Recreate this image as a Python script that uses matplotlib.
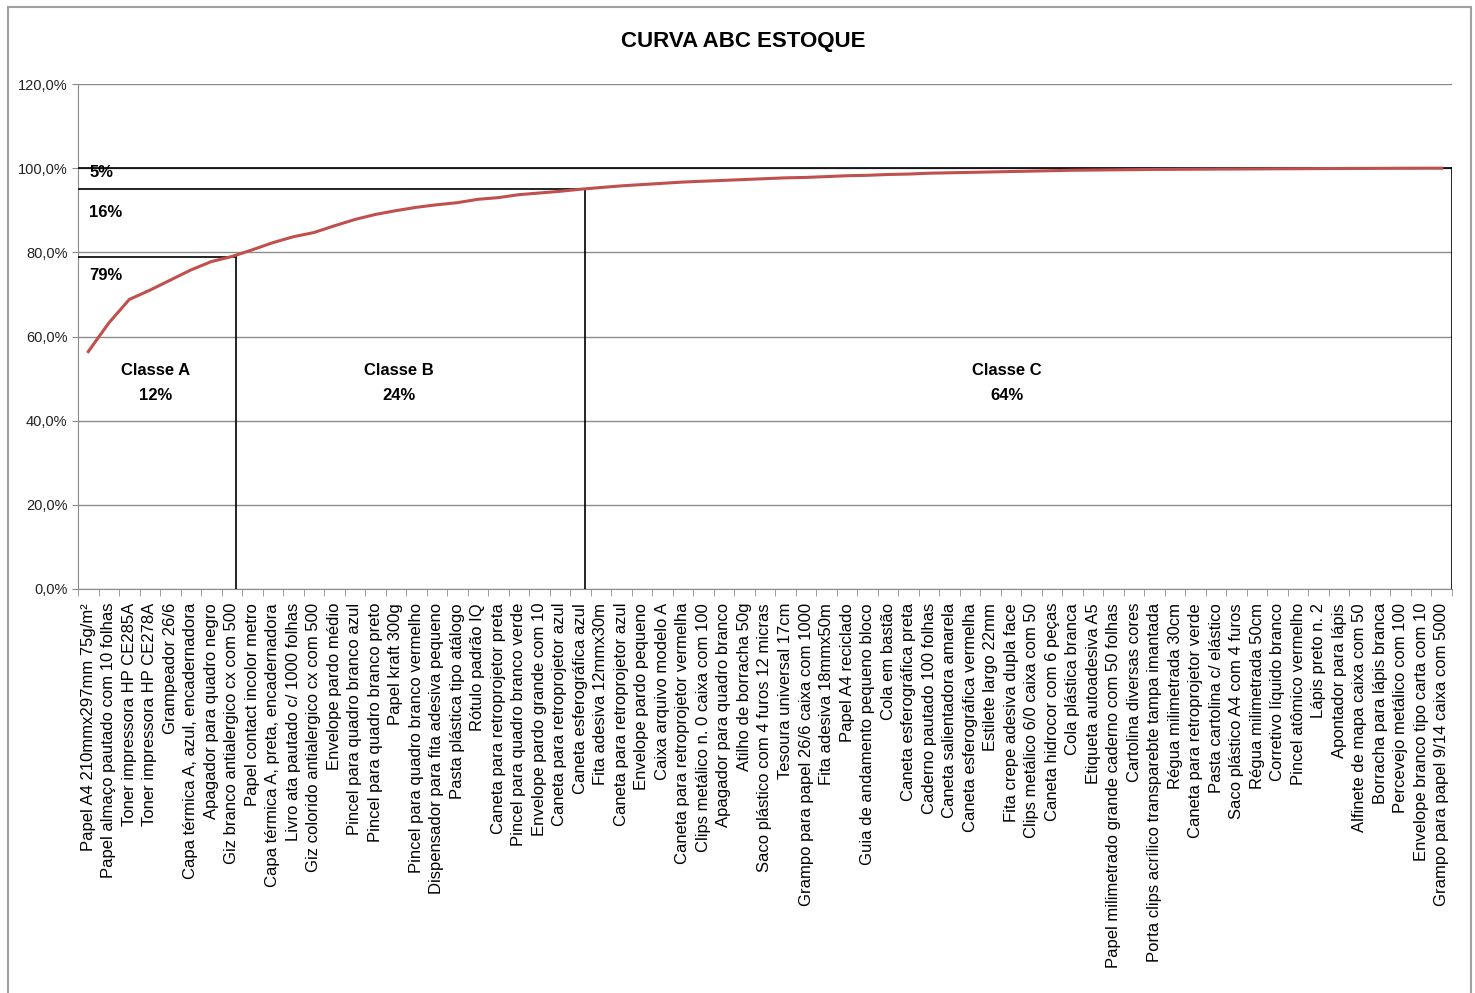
import matplotlib
matplotlib.use("Agg")
import matplotlib.pyplot as plt
from matplotlib.patches import Rectangle
from matplotlib.ticker import FuncFormatter

plt.rcParams['font.family'] = ['Liberation Sans', 'DejaVu Sans']

items = [
    "Papel A4 210mmx297mm 75g/m²",
    "Papel almaço pautado com 10 folhas",
    "Toner impressora HP CE285A",
    "Toner impressora HP CE278A",
    "Grampeador 26/6",
    "Capa térmica A, azul, encadernadora",
    "Apagador para quadro negro",
    "Giz branco antialergico cx com 500",
    "Papel contact incolor metro",
    "Capa térmica A, preta, encadernadora",
    "Livro ata pautado c/ 1000 folhas",
    "Giz colorido antialergico cx com 500",
    "Envelope pardo médio",
    "Pincel para quadro branco azul",
    "Pincel para quadro branco preto",
    "Papel kraft 300g",
    "Pincel para quadro branco vermelho",
    "Dispensador para fita adesiva pequeno",
    "Pasta plástica tipo atálogo",
    "Rótulo padrão IQ",
    "Caneta para retroprojetor preta",
    "Pincel para quadro branco verde",
    "Envelope pardo grande com 10",
    "Caneta para retroprojetor azul",
    "Caneta esferográfica azul",
    "Fita adesiva 12mmx30m",
    "Caneta para retroprojetor azul",
    "Envelope pardo pequeno",
    "Caixa arquivo modelo A",
    "Caneta para retroprojetor vermelha",
    "Clips metálico n. 0 caixa com 100",
    "Apagador para quadro branco",
    "Atilho de borracha 50g",
    "Saco plástico com 4 furos 12 micras",
    "Tesoura universal 17cm",
    "Grampo para papel 26/6 caixa com 1000",
    "Fita adesiva 18mmx50m",
    "Papel A4 reciclado",
    "Guia de andamento pequeno bloco",
    "Cola em bastão",
    "Caneta esferográfica preta",
    "Caderno pautado 100 folhas",
    "Caneta salientadora amarela",
    "Caneta esferográfica vermelha",
    "Estilete largo 22mm",
    "Fita crepe adesiva dupla face",
    "Clips metálico 6/0 caixa com 50",
    "Caneta hidrocor com 6 peças",
    "Cola plástica branca",
    "Etiqueta autoadesiva A5",
    "Papel milimetrado grande caderno com 50 folhas",
    "Cartolina diversas cores",
    "Porta clips acrílico transparebte tampa imantada",
    "Régua milimetrada 30cm",
    "Caneta para retroprojetor verde",
    "Pasta cartolina c/ elástico",
    "Saco plástico A4 com 4 furos",
    "Régua milimetrada 50cm",
    "Corretivo líquido branco",
    "Pincel atômico vermelho",
    "Lápis preto n. 2",
    "Apontador para lápis",
    "Alfinete de mapa caixa com 50",
    "Borracha para lápis branca",
    "Percevejo metálico com 100",
    "Envelope branco tipo carta com 10",
    "Grampo para papel 9/14 caixa com 5000",
]

# cumulative percentage (%)
cumulative = [
    56.4, 63.2, 68.8, 71.0, 73.4, 75.8, 77.8, 79.0,
    80.6, 82.3, 83.7, 84.7, 86.3, 87.8, 89.0, 89.9, 90.7, 91.3,
    91.8, 92.6, 93.0, 93.7, 94.1, 94.5, 95.0,
    95.4, 95.8, 96.1, 96.4, 96.7, 96.9, 97.1, 97.3, 97.5, 97.7,
    97.8, 98.0, 98.2, 98.3, 98.5, 98.6, 98.8, 98.9, 99.0, 99.1,
    99.2, 99.3, 99.4, 99.5, 99.55, 99.6, 99.65, 99.7, 99.72, 99.75,
    99.78, 99.8, 99.82, 99.85, 99.87, 99.9, 99.92, 99.94, 99.96, 99.98,
    99.99, 100.0,
]

class_names = ["Classe A", "Classe B", "Classe C"]
class_item_share = ["12%", "24%", "64%"]
class_value_share = ["79%", "16%", "5%"]
class_end_index = [7, 24, 66]          # last item of each class
class_cum_value = [79.0, 95.0, 100.0]  # cumulative % at class boundary

fig = plt.figure(figsize=(14.75, 9.93), dpi=100)
ax = fig.add_axes([78 / 1475, 1 - 589 / 993, (1452 - 78) / 1475, (589 - 84) / 993])

n = len(items)
x = list(range(n))
ax.set_xlim(-0.5, n - 0.5)
ax.set_ylim(0, 120)

# grid
for yv in range(0, 121, 20):
    ax.axhline(yv, color='#8c8c8c', lw=1.0, zorder=1)

# class boxes
for xe, yc in zip(class_end_index, class_cum_value):
    xr = xe + 0.2 if xe < n - 1 else n - 0.5
    ax.plot([-0.5, xr], [yc, yc], color='black', lw=1.2, zorder=3)
    ax.plot([xr, xr], [0, yc], color='black', lw=1.2, zorder=3)

ax.plot(x, cumulative, color='#c0504d', lw=2.2, zorder=4)

# class labels
label_x = [3.27, 15.17, 44.8]
for cx, nm, sh in zip(label_x, class_names, class_item_share):
    ax.text(cx, 52, nm, ha='center', va='center', fontsize=12, fontweight='bold',
            fontstretch='condensed')
    ax.text(cx, 46, sh, ha='center', va='center', fontsize=12, fontweight='bold')

# value-share labels
ax.text(0.05, 74.5, class_value_share[0], ha='left', va='center', fontsize=12, fontweight='bold')
ax.text(0.05, 89.5, class_value_share[1], ha='left', va='center', fontsize=12, fontweight='bold')
ax.text(0.05, 99.0, class_value_share[2], ha='left', va='center', fontsize=12, fontweight='bold')

ax.set_yticks(range(0, 121, 20))
ax.yaxis.set_major_formatter(FuncFormatter(lambda v, p: f"{v:.1f}".replace('.', ',') + "%"))
ax.tick_params(axis='y', labelsize=10.5, length=4, color='#8c8c8c', colors='#222222')

ax.set_xticks(x)
ax.set_xticklabels(items, rotation=90, fontsize=12)
ax.set_xticks([i - 0.5 for i in range(n + 1)], minor=True)
ax.tick_params(axis='x', which='major', length=0, pad=10)
ax.tick_params(axis='x', which='minor', length=5, color='#8c8c8c')

for side in ['top', 'right']:
    ax.spines[side].set_visible(False)
ax.spines['left'].set_color('#8c8c8c')
ax.spines['bottom'].set_color('#8c8c8c')

fig.text(743 / 1475, 1 - 42 / 993, "CURVA ABC ESTOQUE", ha='center', va='center',
         fontsize=16, fontweight='bold')

fig.patches.append(Rectangle((8 / 1475, -0.01), (1471 - 8) / 1475, (993 - 7) / 993 + 0.01,
                             transform=fig.transFigure, fill=False, ec='#a0a0a0', lw=1.5))

fig.savefig("out.png", dpi=100)
